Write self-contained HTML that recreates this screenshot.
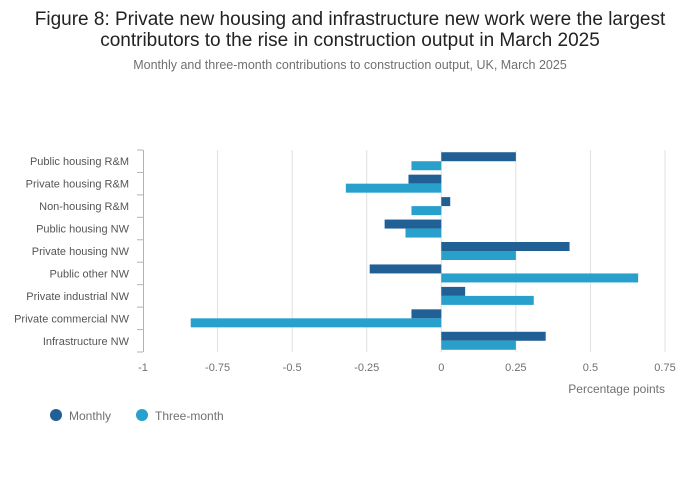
<!DOCTYPE html>
<html><head><meta charset="utf-8"><style>
body{margin:0;background:#fff;font-family:"Liberation Sans",sans-serif;}
#wrap{position:relative;width:700px;height:502px;overflow:hidden}
</style></head><body>
<div id="wrap">
<svg id="chart" width="700" height="502">
<text x="350" y="25" text-anchor="middle" font-size="19" fill="#222">Figure 8: Private new housing and infrastructure new work were the largest</text>
<text x="350" y="46" text-anchor="middle" font-size="19" fill="#222">contributors to the rise in construction output in March 2025</text>
<text x="350" y="69" text-anchor="middle" font-size="12.5" fill="#707070">Monthly and three-month contributions to construction output, UK, March 2025</text>
<g id="grid"></g>
<g id="bars"></g>
<g id="yaxis"></g>
<g id="xaxis"></g>
<text x="665" y="393" text-anchor="end" font-size="12" fill="#707070">Percentage points</text>
<g>
<g><circle cx="56" cy="415" r="6" fill="#206095"/><text x="69" y="420" font-size="12" fill="#707070">Monthly</text></g>
<g><circle cx="142" cy="415" r="6" fill="#27a0cc"/><text x="155" y="420" font-size="12" fill="#707070">Three-month</text></g>
</g>
</svg>
</div>
<script>
const categories=["Public housing R&M","Private housing R&M","Non-housing R&M","Public housing NW","Private housing NW","Public other NW","Private industrial NW","Private commercial NW","Infrastructure NW"];
const monthly=[0.25,-0.11,0.03,-0.19,0.43,-0.24,0.08,-0.10,0.35];
const threeMonth=[-0.10,-0.32,-0.10,-0.12,0.25,0.66,0.31,-0.84,0.25];
const ticks=[-1,-0.75,-0.5,-0.25,0,0.25,0.5,0.75];
const tickLabels=["-1","-0.75","-0.5","-0.25","0","0.25","0.5","0.75"];
const NS="http://www.w3.org/2000/svg";
const x0=143,x1=665,yTop=150,yBottom=352,dmin=-1,dmax=0.75;
const xs=v=>x0+(v-dmin)/(dmax-dmin)*(x1-x0);
const band=(yBottom-yTop)/categories.length;
function mk(t,a,p){const e=document.createElementNS(NS,t);for(const k in a)e.setAttribute(k,a[k]);p.appendChild(e);return e;}
const grid=document.getElementById('grid'),bars=document.getElementById('bars'),ya=document.getElementById('yaxis'),xa=document.getElementById('xaxis');
ticks.forEach((t,i)=>{
  if(i>0){const g=mk('line',{x1:xs(t),x2:xs(t),y1:yTop,y2:yBottom,stroke:'#e0e0e0'},grid);
  
  }
  const l=mk('text',{x:xs(t),y:371,'text-anchor':'middle','font-size':11,fill:'#707070'},xa);
  l.textContent=tickLabels[i];
  
  
});
mk('line',{x1:x0+0.5,x2:x0+0.5,y1:yTop,y2:yBottom,stroke:'#b3b3b3'},ya);
for(let i=0;i<=categories.length;i++){mk('line',{x1:137,x2:x0,y1:yTop+i*band,y2:yTop+i*band,stroke:'#b3b3b3'},ya);}
const bh=9;
categories.forEach((c,i)=>{
  const cy=yTop+i*band+band/2;
  const t=mk('text',{x:129,y:cy+4,'text-anchor':'end','font-size':11,fill:'#555'},ya);
  t.textContent=c;
  
  
  const m=monthly[i],q=threeMonth[i];
  const b1=mk('rect',{x:Math.min(xs(0),xs(m)),y:cy-bh,width:Math.abs(xs(m)-xs(0)),height:bh,fill:'#206095'},bars);
  
  
  const b2=mk('rect',{x:Math.min(xs(0),xs(q)),y:cy,width:Math.abs(xs(q)-xs(0)),height:bh,fill:'#27a0cc'},bars);
  
  
});
</script>
</body></html>
